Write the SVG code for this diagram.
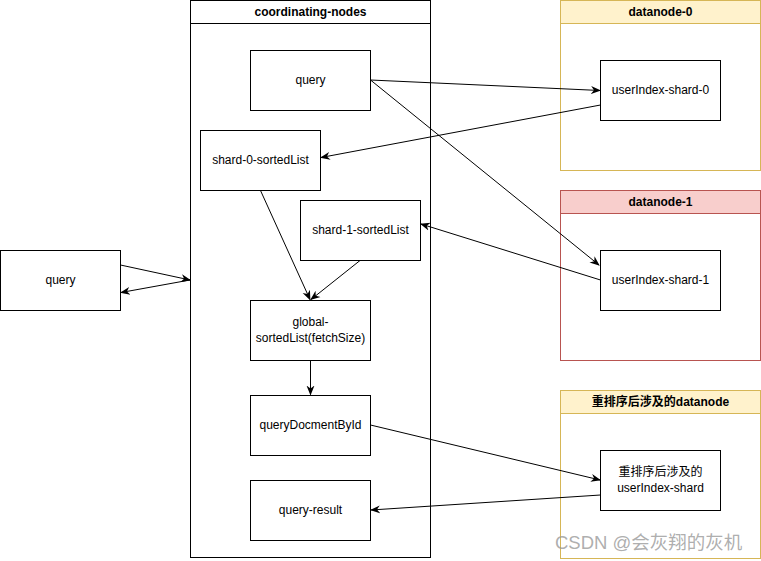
<svg xmlns="http://www.w3.org/2000/svg" width="761" height="561" viewBox="0 0 761 561">
<defs>
<marker id="arr" viewBox="0 0 10 10" refX="9" refY="5" markerWidth="10" markerHeight="10" markerUnits="userSpaceOnUse" orient="auto">
<path d="M0,1 L10,5 L0,9 L3,5 Z" fill="#000"/>
</marker>
<style>
.box{fill:#fff;stroke:#000;stroke-width:1}
.t{font-family:"Liberation Sans",Arial,"Noto Sans CJK SC",sans-serif;font-size:12px;fill:#000;text-anchor:middle}
.h{font-weight:bold}
.c{fill:none;stroke:#000;stroke-width:1;marker-end:url(#arr)}
</style>
</defs>
<rect width="761" height="561" fill="#fff"/>
<g id="coordinating-nodes">
<rect x="190.5" y="0.5" width="240" height="557" class="box"/>
<line x1="190.5" y1="23.5" x2="430.5" y2="23.5" stroke="#000"/>
<text x="310.5" y="16" class="t h">coordinating-nodes</text>
</g>
<g id="datanode-0">
<rect x="560.5" y="0.5" width="200" height="170" fill="#fff" stroke="#d6b656"/>
<rect x="560.5" y="0.5" width="200" height="23" fill="#fff2cc" stroke="#d6b656"/>
<text x="660.5" y="16" class="t h">datanode-0</text>
</g>
<g id="datanode-1">
<rect x="560.5" y="190.5" width="200" height="170" fill="#fff" stroke="#b85450"/>
<rect x="560.5" y="190.5" width="200" height="23" fill="#f8cecc" stroke="#b85450"/>
<text x="660.5" y="206" class="t h">datanode-1</text>
</g>
<g id="datanode-reorder">
<rect x="560.5" y="390.5" width="200" height="168" fill="#fff" stroke="#d6b656"/>
<rect x="560.5" y="390.5" width="200" height="23" fill="#fff2cc" stroke="#d6b656"/>
<text x="660.5" y="406" class="t h">重排序后涉及的datanode</text>
</g>
<g id="query">
<rect x="250.5" y="50.5" width="120" height="60" class="box"/>
<text x="310.5" y="84" class="t">query</text>
</g>
<g id="shard-0-sortedList">
<rect x="200.5" y="130.5" width="120" height="60" class="box"/>
<text x="260.5" y="164" class="t">shard-0-sortedList</text>
</g>
<g id="shard-1-sortedList">
<rect x="300.5" y="200.5" width="120" height="60" class="box"/>
<text x="360.5" y="234" class="t">shard-1-sortedList</text>
</g>
<g id="global-sortedList">
<rect x="250.5" y="300.5" width="120" height="60" class="box"/>
<text x="310.5" y="326" class="t">global-</text>
<text x="310.5" y="342" class="t">sortedList(fetchSize)</text>
</g>
<g id="queryDocmentById">
<rect x="250.5" y="395.5" width="120" height="60" class="box"/>
<text x="310.5" y="429" class="t">queryDocmentById</text>
</g>
<g id="query-result">
<rect x="250.5" y="480.5" width="120" height="60" class="box"/>
<text x="310.5" y="514" class="t">query-result</text>
</g>
<g id="client-query">
<rect x="0.5" y="250.5" width="120" height="60" class="box"/>
<text x="60.5" y="284" class="t">query</text>
</g>
<g id="userIndex-shard-0">
<rect x="600.5" y="60.5" width="120" height="60" class="box"/>
<text x="660.5" y="94" class="t">userIndex-shard-0</text>
</g>
<g id="userIndex-shard-1">
<rect x="600.5" y="250.5" width="120" height="60" class="box"/>
<text x="660.5" y="284" class="t">userIndex-shard-1</text>
</g>
<g id="userIndex-shard">
<rect x="600.5" y="450.5" width="120" height="60" class="box"/>
<text x="660.5" y="476" class="t">重排序后涉及的</text>
<text x="660.5" y="492" class="t">userIndex-shard</text>
</g>
<g id="connectors">
<path d="M370.5,80 L600,90.5" class="c"/>
<path d="M370.5,80 L599,265" class="c"/>
<path d="M600.5,105 L321,157.5" class="c"/>
<path d="M600.5,280 L421,224" class="c"/>
<path d="M260.5,190.5 L310,299.5" class="c"/>
<path d="M360,260.5 L311,299.5" class="c"/>
<path d="M310.5,360.5 L310.5,394.5" class="c"/>
<path d="M370.5,425 L600,480" class="c"/>
<path d="M600.5,495 L371,510" class="c"/>
<path d="M120.5,265 L190,280" class="c"/>
<path d="M190,280 L121,292.5" class="c"/>
</g>
<text x="555" y="549" font-family="Liberation Sans,'Noto Sans CJK SC',sans-serif" font-size="18.5" fill="#999" fill-opacity="0.8">CSDN @会灰翔的灰机</text>
</svg>
